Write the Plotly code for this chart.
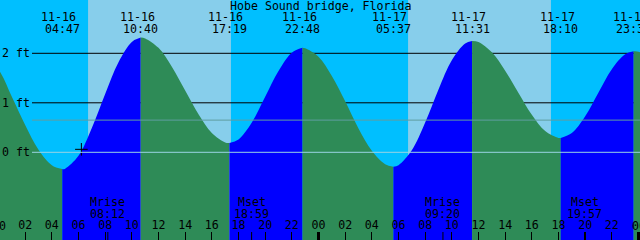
import pandas as pd
import plotly.graph_objects as go

# ---------------- data ----------------
TITLE = "Hobe Sound bridge, Florida"

# high / low tide events
ext_times = ["2020-11-15 21:48", "2020-11-16 04:47", "2020-11-16 10:40",
             "2020-11-16 17:19", "2020-11-16 22:48", "2020-11-17 05:37",
             "2020-11-17 11:31", "2020-11-17 18:10", "2020-11-17 23:38"]
ext_ft = [2.25, -0.34, 2.32, 0.19, 2.11, -0.29, 2.25, 0.29, 2.04]
ext_dates = ["11-15", "11-16", "11-16", "11-16", "11-16", "11-17", "11-17", "11-17", "11-17"]
ext_clock = ["21:48", "04:47", "10:40", "17:19", "22:48", "05:37", "11:31", "18:10", "23:38"]

# hourly tide heights (ft), starting 2020-11-16 00:00
hourly_start = "2020-11-16 00:00"
hourly_ft = [1.67, 1.12, 0.55, 0.05, -0.26, -0.33, -0.07, 0.49, 1.18, 1.82,
             2.23, 2.30, 2.11, 1.73, 1.25, 0.77, 0.39, 0.20, 0.26, 0.60,
             1.12, 1.64, 2.01, 2.10, 1.93, 1.54, 1.03, 0.48, 0.03, -0.24,
             -0.26, 0.04, 0.60, 1.27, 1.86, 2.20, 2.23, 2.02, 1.65, 1.20,
             0.76, 0.43, 0.29, 0.39, 0.73, 1.21, 1.68, 1.98, 2.03, 1.83]

# sun
sunrise = ["2020-11-16 06:43", "2020-11-17 06:43"]
sunset = ["2020-11-16 17:26", "2020-11-17 17:26"]

# moon
moon_times = ["2020-11-16 08:12", "2020-11-16 18:59", "2020-11-17 09:20", "2020-11-17 19:57"]
moon_names = ["Mrise", "Mset", "Mrise", "Mset"]
moon_clock = ["08:12", "18:59", "09:20", "19:57"]

midnights = ["2020-11-17 00:00", "2020-11-18 00:00"]
edge_ticks = ["2020-11-16 00:00", "2020-11-18 00:00"]
edge_tick_labels = ["00", "00"]

level_lines = [2, 1]
level_labels = ["2 ft", "1 ft", "0 ft"]
level_label_vals = [2, 1, 0]
mean_level = 0.65
datum_level = 0

mark_time = "2020-11-16 06:13"
mark_ft = 0.06

X_RANGE = ["2020-11-16 00:06:45", "2020-11-18 00:06:45"]
Y_MIN, Y_MAX = -1.772, 3.077

# ---------------- styles ----------------
NIGHT = "#00BFFF"
DAY = "#87CEEB"
RISE = "#0000FF"
FALL = "#2E8B57"
MEAN_C = "#5F9EA0"
DATUM_C = "#9AD4E4"
FONT = dict(family="DejaVu Sans Mono", size=11.6, color="black")

# ---------------- build ----------------
hourly_times = pd.date_range(hourly_start, periods=len(hourly_ft), freq="h")
df = pd.concat([
    pd.DataFrame({"t": pd.to_datetime(ext_times), "h": ext_ft, "ext": True}),
    pd.DataFrame({"t": hourly_times, "h": hourly_ft, "ext": False}),
]).sort_values("t").reset_index(drop=True)

ext_idx = list(df.index[df["ext"]])
bounds = ext_idx + [len(df) - 1]

fig = go.Figure()

for a, b in zip(bounds[:-1], bounds[1:]):
    seg = df.iloc[a:b + 1]
    if len(seg) < 2:
        continue
    color = RISE if seg["h"].iloc[-1] > seg["h"].iloc[0] else FALL
    fig.add_trace(go.Scatter(x=[seg["t"].iloc[0], seg["t"].iloc[-1]], y=[Y_MIN, Y_MIN],
                             mode="lines", line=dict(width=0), hoverinfo="skip",
                             showlegend=False))
    fig.add_trace(go.Scatter(x=seg["t"], y=seg["h"], mode="lines",
                             line=dict(width=0, shape="spline", color=color),
                             fill="tonexty", fillcolor=color, hoverinfo="skip",
                             showlegend=False))

fig.add_trace(go.Scatter(x=[mark_time], y=[mark_ft], mode="markers",
                         marker=dict(symbol="cross-thin", size=9,
                                     line=dict(color="black", width=1)),
                         showlegend=False, hoverinfo="skip"))

shapes = []
for sr, ss in zip(sunrise, sunset):
    shapes.append(dict(type="rect", xref="x", yref="paper", x0=sr, x1=ss, y0=0, y1=1,
                       fillcolor=DAY, line=dict(width=0), layer="below"))
for lv in level_lines:
    shapes.append(dict(type="line", xref="paper", yref="y", x0=0.05, x1=1, y0=lv, y1=lv,
                       line=dict(color="black", width=1), layer="between"))
shapes.append(dict(type="line", xref="paper", yref="y", x0=0.05, x1=1, y0=mean_level,
                   y1=mean_level, line=dict(color=MEAN_C, width=1), layer="above"))
shapes.append(dict(type="line", xref="paper", yref="y", x0=0.05, x1=1, y0=datum_level,
                   y1=datum_level, line=dict(color=DATUM_C, width=1), layer="above"))
for mt in moon_times:
    shapes.append(dict(type="line", xref="x", yref="paper", x0=mt, x1=mt, y0=0, y1=8 / 240,
                       line=dict(color="black", width=1), layer="above"))
for md in midnights:
    shapes.append(dict(type="line", xref="x", yref="paper", x0=md, x1=md, y0=0, y1=8 / 240,
                       line=dict(color="black", width=3), layer="above"))

ann = []
ann.append(dict(text=TITLE, xref="paper", yref="paper", x=0.5, y=1 - 6 / 240,
                showarrow=False, font=FONT, xanchor="center", yanchor="middle"))
for t, d, c in zip(ext_times, ext_dates, ext_clock):
    ann.append(dict(text=d, xref="x", yref="paper", x=t, y=1 - 17.5 / 240, xshift=-3.5,
                    showarrow=False, font=FONT, xanchor="center", yanchor="middle"))
    ann.append(dict(text=c, xref="x", yref="paper", x=t, y=1 - 28.7 / 240,
                    showarrow=False, font=FONT, xanchor="center", yanchor="middle"))
for t, n, c in zip(moon_times, moon_names, moon_clock):
    ann.append(dict(text=n, xref="x", yref="paper", x=t, y=1 - 202 / 240,
                    showarrow=False, font=FONT, xanchor="center", yanchor="middle"))
    ann.append(dict(text=c, xref="x", yref="paper", x=t, y=1 - 214 / 240,
                    showarrow=False, font=FONT, xanchor="center", yanchor="middle"))
for lab, v in zip(level_labels, level_label_vals):
    ann.append(dict(text=lab, xref="paper", yref="y", x=0, y=v, xshift=0,
                    showarrow=False, font=FONT, xanchor="left", yanchor="middle"))

# midnight tick labels that plotly hides at the plot edges (partly visible)
r0, r1 = pd.to_datetime(X_RANGE[0]), pd.to_datetime(X_RANGE[1])
for et, el in zip(edge_ticks, edge_tick_labels):
    frac = (pd.to_datetime(et) - r0) / (r1 - r0)
    ann.append(dict(text=el, xref="paper", yref="paper", x=frac,
                    y=1 - 225.5 / 240, showarrow=False, font=FONT,
                    xanchor="center", yanchor="middle"))

fig.update_layout(
    width=640, height=240,
    margin=dict(l=0, r=0, t=0, b=0, pad=0, autoexpand=False),
    paper_bgcolor=NIGHT, plot_bgcolor=NIGHT,
    shapes=shapes, annotations=ann, showlegend=False,
    xaxis=dict(type="date", range=X_RANGE, showgrid=False, zeroline=False, showline=False,
               ticks="inside", ticklen=8, tickwidth=1, tickcolor="black",
               tick0="2020-11-16 00:00", dtick=7200000, tickformat="%H",
               ticklabelposition="inside", automargin=False,
               tickfont=FONT, fixedrange=True),
    yaxis=dict(range=[Y_MIN, Y_MAX], showgrid=False, zeroline=False, showline=False,
               showticklabels=False, ticks="", fixedrange=True, automargin=False),
)

fig.write_html("out.html", config={"displayModeBar": False})
